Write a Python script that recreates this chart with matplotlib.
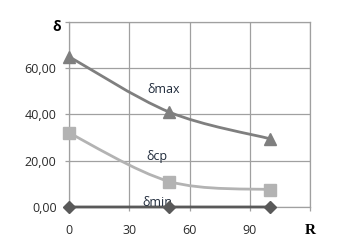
import numpy as np
import matplotlib
matplotlib.use('Agg')
import matplotlib.pyplot as plt
from matplotlib.path import Path
from matplotlib.patches import PathPatch

# Data
r = [0, 50, 100]
d_max = [65, 41, 29.5]
d_cp = [32, 11, 7.5]
d_min = [0, 0, 0]
x_ticks = [0, 30, 60, 90, 120]
x_labels = ['0', '30', '60', '90', '']
y_ticks = [0, 20, 40, 60, 80]
y_labels = ['0,00', '20,00', '40,00', '60,00', '']

plt.rcParams['font.family'] = ['Open Sans', 'DejaVu Sans']


def smooth_path(xs, ys):
    # Catmull-Rom style smoothing like Excel's smoothed lines
    pts = np.column_stack([xs, ys]).astype(float)
    verts = [pts[0]]
    codes = [Path.MOVETO]
    n = len(pts)
    for i in range(n - 1):
        p0 = pts[i - 1] if i > 0 else pts[i]
        p1 = pts[i]
        p2 = pts[i + 1]
        p3 = pts[i + 2] if i + 2 < n else pts[i + 1]
        c1 = p1 + (p2 - p0) / 6.0
        c2 = p2 - (p3 - p1) / 6.0
        verts += [c1, c2, p2]
        codes += [Path.CURVE4] * 3
    return Path(verts, codes)


fig = plt.figure(figsize=(3.37, 2.47), dpi=100)
ax = fig.add_axes([0.205, 0.162, 0.715, 0.749])

series = [
    (d_max, '#7f7f7f', '^', 8),
    (d_cp, '#b3b3b3', 's', 8),
    (d_min, '#595959', 'D', 6),
]
for ys, col, mk, ms in series:
    ax.add_patch(PathPatch(smooth_path(r, ys), facecolor='none', edgecolor=col, lw=2, zorder=3, clip_on=False))
    ax.plot(r, ys, linestyle='none', marker=mk, color=col, markersize=ms, zorder=4, clip_on=False)

ax.set_xlim(0, 120)
ax.set_ylim(0, 80)
ax.set_xticks(x_ticks)
ax.set_xticklabels(x_labels)
ax.set_yticks(y_ticks)
ax.set_yticklabels(y_labels)
ax.grid(True, color='#a0a0a0', lw=0.9)
ax.set_axisbelow(True)
for s in ax.spines.values():
    s.set_color('#a0a0a0')
    s.set_linewidth(0.9)
ax.tick_params(colors='#a0a0a0', labelcolor='#2a2a2a', labelsize=9, length=3, width=0.9)
ax.tick_params(axis='x', pad=9)
ax.tick_params(axis='y', pad=6)

ax.text(47, 51, 'δmax', fontsize=9, color='#1f2a3a', ha='center', va='center')
ax.text(44, 22, 'δcp', fontsize=9, color='#1f2a3a', ha='center', va='center')
ax.text(44, 2, 'δmin', fontsize=9, color='#1f2a3a', ha='center', va='center')

fig.text(0.168, 0.89, 'δ', fontsize=10, fontweight='bold', color='black', ha='center', va='center')
fig.text(0.92, 0.068, 'R', fontsize=11, fontweight='bold', family='Liberation Serif', color='black', ha='center', va='center')

fig.savefig('out.png', dpi=100)
